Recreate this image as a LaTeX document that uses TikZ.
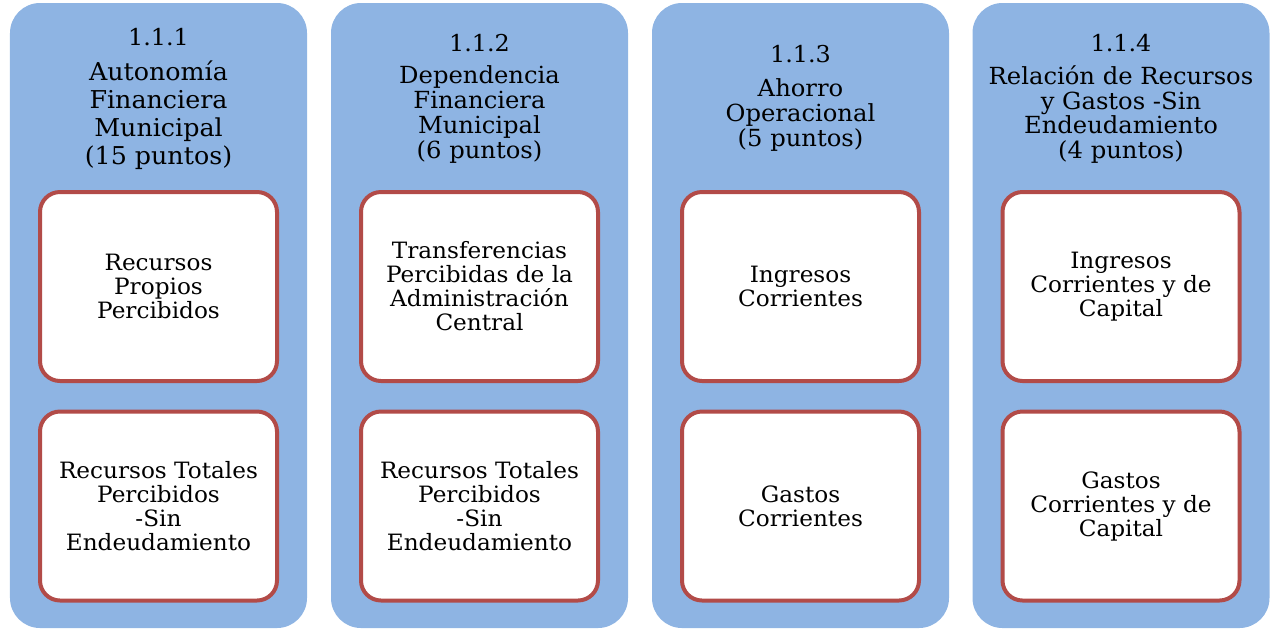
\documentclass[tikz,border=0pt]{standalone}
\usepackage{fontspec}
\setmainfont[FakeStretch=1.03]{DejaVu Serif}
\definecolor{azul}{HTML}{8EB4E3}
\definecolor{vermelho}{HTML}{B24B48}
\begin{document}
\begin{tikzpicture}[
    coluna/.style={draw=none, fill=azul, rectangle, rounded corners=0.6cm, minimum width=5.94cm, minimum height=12.5cm},
    caixa/.style={draw=vermelho, line width=0.08cm, fill=white, rectangle, rounded corners=0.4cm, minimum width=4.74cm, minimum height=3.78cm, align=center, font=\fontsize{12.8}{13.66}\selectfont},
    titulo/.style={align=center, font=\fontsize{13.4}{14.2}\selectfont},
    numero/.style={font=\fontsize{13.2}{14}\selectfont}]
    \useasboundingbox (0,0) rectangle (25.42,-12.6);

    % Colunas azuis
    \node[coluna] (c1) at (3.17,-6.31) {};
    \node[coluna] (c2) at (9.59,-6.31) {};
    \node[coluna] (c3) at (16.01,-6.31) {};
    \node[coluna] (c4) at (22.42,-6.31) {};

    % Numeros e titulos
    \node[numero] (n1) at (3.17,-0.74) {1.1.1};
    \node[titulo, font=\fontsize{14}{15.9}\selectfont] (t1) at (3.17,-2.30) {Autonomía\\Financiera\\Municipal\\(15 puntos)};
    \node[numero] (n2) at (9.59,-0.86) {1.1.2};
    \node[titulo] (t2) at (9.59,-2.29) {Dependencia\\Financiera\\Municipal\\(6 puntos)};
    \node[numero] (n3) at (16.01,-1.08) {1.1.3};
    \node[titulo] (t3) at (16.01,-2.30) {Ahorro\\Operacional\\(5 puntos)};
    \node[numero] (n4) at (22.42,-0.86) {1.1.4};
    \node[titulo] (t4) at (22.42,-2.29) {Relación de Recursos\\y Gastos -Sin\\Endeudamiento\\(4 puntos)};

    % Caixas de cima
    \node[caixa] (a1) at (3.17,-5.73) {Recursos\\Propios\\Percibidos};
    \node[caixa] (a2) at (9.59,-5.73) {Transferencias\\Percibidas de la\\Administración\\Central};
    \node[caixa] (a3) at (16.01,-5.73) {Ingresos\\Corrientes};
    \node[caixa] (a4) at (22.42,-5.73) {Ingresos\\Corrientes y de\\Capital};

    % Caixas de baixo
    \node[caixa] (b1) at (3.17,-10.12) {Recursos Totales\\Percibidos\\-Sin\\Endeudamiento};
    \node[caixa] (b2) at (9.59,-10.12) {Recursos Totales\\Percibidos\\-Sin\\Endeudamiento};
    \node[caixa] (b3) at (16.01,-10.12) {Gastos\\Corrientes};
    \node[caixa] (b4) at (22.42,-10.12) {Gastos\\Corrientes y de\\Capital};
\end{tikzpicture}
\end{document}
